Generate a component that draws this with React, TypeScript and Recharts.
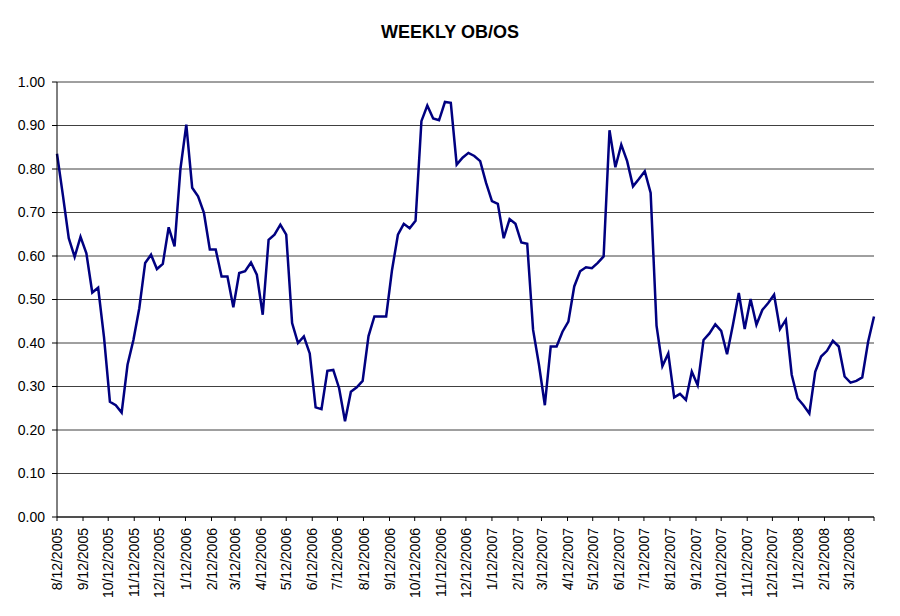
import { LineChart, Line, XAxis, YAxis, CartesianGrid } from "recharts";

// weekly readings, first week = 8/12/2005
const START_DATE = "8/12/2005";
const obos = [
  0.835, 0.74, 0.641, 0.598, 0.644, 0.606, 0.516, 0.527, 0.413, 0.265,
  0.257, 0.24, 0.35, 0.407, 0.48, 0.584, 0.603, 0.57, 0.582, 0.666,
  0.622, 0.8, 0.902, 0.757, 0.737, 0.699, 0.615, 0.615, 0.553, 0.553,
  0.482, 0.561, 0.565, 0.585, 0.557, 0.465, 0.637, 0.649, 0.672, 0.649,
  0.446, 0.4, 0.415, 0.376, 0.252, 0.248, 0.336, 0.338, 0.296, 0.22,
  0.288, 0.298, 0.313, 0.416, 0.461, 0.461, 0.461, 0.568, 0.649, 0.674,
  0.664, 0.681, 0.91, 0.946, 0.916, 0.912, 0.954, 0.952, 0.81, 0.826,
  0.837, 0.83, 0.818, 0.768, 0.726, 0.72, 0.641, 0.685, 0.674, 0.631,
  0.628, 0.43, 0.35, 0.257, 0.392, 0.392, 0.426, 0.449, 0.53, 0.565,
  0.574, 0.572, 0.584, 0.599, 0.889, 0.804, 0.856, 0.818, 0.76, 0.777,
  0.795, 0.745, 0.44, 0.347, 0.376, 0.275, 0.283, 0.269, 0.334, 0.303,
  0.407, 0.422, 0.443, 0.428, 0.374, 0.442, 0.515, 0.432, 0.501, 0.442,
  0.476, 0.492, 0.511, 0.432, 0.453, 0.327, 0.273, 0.257, 0.238, 0.334,
  0.369, 0.382, 0.405, 0.392, 0.323, 0.309, 0.313, 0.321, 0.403, 0.461,
];

const monthLabels = [
  "8/12/2005", "9/12/2005", "10/12/2005", "11/12/2005", "12/12/2005",
  "1/12/2006", "2/12/2006", "3/12/2006", "4/12/2006", "5/12/2006",
  "6/12/2006", "7/12/2006", "8/12/2006", "9/12/2006", "10/12/2006",
  "11/12/2006", "12/12/2006", "1/12/2007", "2/12/2007", "3/12/2007",
  "4/12/2007", "5/12/2007", "6/12/2007", "7/12/2007", "8/12/2007",
  "9/12/2007", "10/12/2007", "11/12/2007", "12/12/2007", "1/12/2008",
  "2/12/2008", "3/12/2008",
];
const AXIS_END = "4/11/2008";

const yTicks = [0, 0.1, 0.2, 0.3, 0.4, 0.5, 0.6, 0.7, 0.8, 0.9, 1.0];

const FONT = "Arial, 'Liberation Sans', sans-serif";

function toUtc(s: string) {
  const [m, d, y] = s.split("/").map(Number);
  return Date.UTC(y, m - 1, d);
}
const DAY = 86400000;
const daysFromStart = (s: string) => Math.round((toUtc(s) - toUtc(START_DATE)) / DAY);

const data = obos.map((v, i) => ({ day: i * 7, value: v }));
const tickDays = monthLabels.map(daysFromStart);
const endDay = daysFromStart(AXIS_END);
const labelByDay: Record<number, string> = {};
monthLabels.forEach((l, i) => (labelByDay[tickDays[i]] = l));

function DateTick(props: any) {
  const { x, y, payload } = props;
  const label = labelByDay[payload.value] ?? "";
  return (
    <text
      x={x}
      y={y}
      transform={`rotate(-90, ${x}, ${y})`}
      textAnchor="end"
      dy="0.36em"
      fontSize={14}
      fontFamily={FONT}
      fill="#000"
    >
      {label}
    </text>
  );
}

export default function App() {
  return (
    <div style={{ position: "absolute", left: 0, top: 0, width: 900, height: 616, background: "#fff" }}>
      <div
        style={{
          position: "absolute",
          top: 22,
          left: 0,
          width: 900,
          textAlign: "center",
          fontFamily: FONT,
          fontWeight: "bold",
          fontSize: 18,
          color: "#000",
        }}
      >
        WEEKLY OB/OS
      </div>
      <LineChart
        width={900}
        height={616}
        data={data}
        margin={{ top: 82, right: 26, bottom: 0, left: 0 }}
      >
        <CartesianGrid vertical={false} stroke="#404040" strokeWidth={1} />
        <XAxis
          dataKey="day"
          type="number"
          domain={[0, endDay]}
          ticks={[...tickDays, endDay]}
          interval={0}
          height={99}
          tickSize={4}
          tickMargin={7}
          stroke="#000"
          tick={<DateTick />}
        />
        <YAxis
          type="number"
          domain={[0, 1]}
          ticks={yTicks}
          interval={0}
          width={57}
          tickSize={5}
          tickMargin={7}
          stroke="#000"
          tickFormatter={(v: number) => v.toFixed(2)}
          tick={{ fontSize: 14, fontFamily: FONT, fill: "#000" }}
        />
        <Line
          type="linear"
          dataKey="value"
          stroke="#000080"
          strokeWidth={2.5}
          dot={false}
          isAnimationActive={false}
        />
      </LineChart>
    </div>
  );
}
